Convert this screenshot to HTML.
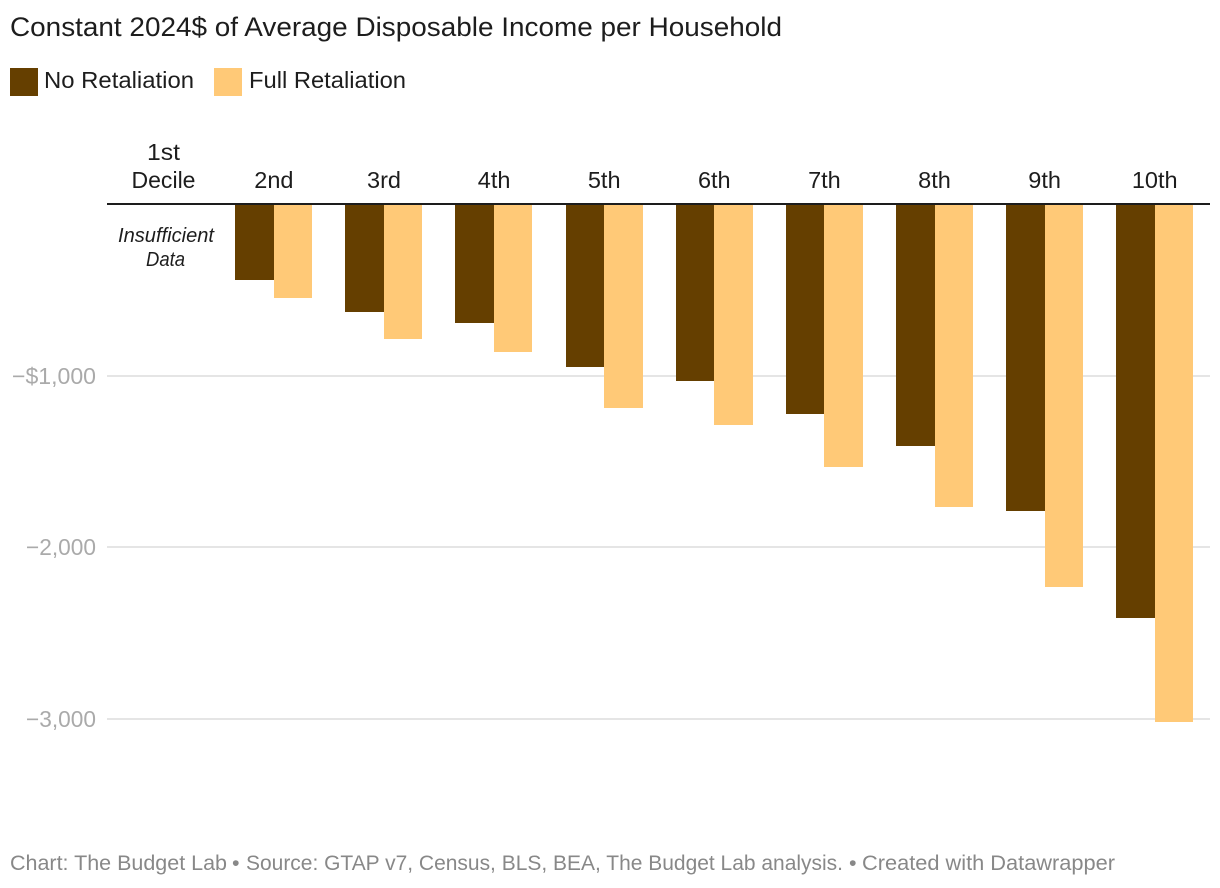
<!DOCTYPE html>
<html lang="en">
<head>
<meta charset="utf-8">
<title>Constant 2024$ of Average Disposable Income per Household</title>
<style>
html,body{margin:0;padding:0;background:#fff;width:1220px;height:888px;overflow:hidden}
svg{display:block}
text{font-family:"Liberation Sans",sans-serif}
</style>
</head>
<body>
<svg id="chart" xmlns="http://www.w3.org/2000/svg" width="1220" height="888" viewBox="0 0 1220 888">
  <rect x="0" y="0" width="1220" height="888" fill="#ffffff"/>
  <text x="10" y="36" font-size="26.5" fill="#1d1d1d" textLength="772" lengthAdjust="spacingAndGlyphs">Constant 2024$ of Average Disposable Income per Household</text>
  <g>
    <rect x="10" y="68" width="28" height="28" fill="#653f00"/>
    <text x="44" y="88" font-size="23.5" fill="#1d1d1d" textLength="150" lengthAdjust="spacingAndGlyphs">No Retaliation</text>
    <rect x="214" y="68" width="28" height="28" fill="#ffc977"/>
    <text x="249" y="88" font-size="23.5" fill="#1d1d1d" textLength="157" lengthAdjust="spacingAndGlyphs">Full Retaliation</text>
  </g>
  <g id="grid"></g>
  <g id="yticks"></g>
  <g id="bars"></g>
  <rect x="107" y="203" width="1103" height="2" fill="#1d1d1d"/>
  <g id="xlabels"></g>
  <text x="163.5" y="160" font-size="23.5" fill="#1d1d1d" text-anchor="middle" textLength="33" lengthAdjust="spacingAndGlyphs">1st</text>
  <text x="163.5" y="188" font-size="23.5" fill="#1d1d1d" text-anchor="middle" textLength="64" lengthAdjust="spacingAndGlyphs">Decile</text>
  <text x="166" y="242" font-size="20" font-style="italic" fill="#1d1d1d" text-anchor="middle" textLength="96" lengthAdjust="spacingAndGlyphs">Insufficient</text>
  <text x="165.5" y="266" font-size="20" font-style="italic" fill="#1d1d1d" text-anchor="middle" textLength="39" lengthAdjust="spacingAndGlyphs">Data</text>
  <g font-size="21.5" fill="#888888">
    <text x="10" y="870" textLength="217" lengthAdjust="spacingAndGlyphs">Chart: The Budget Lab</text>
    <text x="232" y="870">•</text>
    <text x="246" y="870" textLength="597" lengthAdjust="spacingAndGlyphs">Source: GTAP v7, Census, BLS, BEA, The Budget Lab analysis.</text>
    <text x="849" y="870">•</text>
    <text x="862" y="870" textLength="253" lengthAdjust="spacingAndGlyphs">Created with Datawrapper</text>
  </g>
</svg>
<script>
const categories = ["1st", "2nd", "3rd", "4th", "5th", "6th", "7th", "8th", "9th", "10th"];
const noRetaliation = [null, -443, -629, -693, -950, -1031, -1223, -1410, -1788, -2412];
const fullRetaliation = [null, -548, -786, -862, -1188, -1287, -1532, -1765, -2231, -3017];
const yTickValues = [-1000, -2000, -3000];
const yTickLabels = ["−$1,000", "−2,000", "−3,000"];

const SVG_NS = "http://www.w3.org/2000/svg";
function yScale(v) { return 204 + (-v) * 0.17167; }
function xCenter(i) { return 163.8 + i * 110.1; }
const leftBand = 38.7;
const rightBand = 38.3;

const grid = document.getElementById("grid");
const yticks = document.getElementById("yticks");
yTickValues.forEach(function (v, i) {
  const y = Math.round(yScale(v));
  const line = document.createElementNS(SVG_NS, "rect");
  
  
  line.setAttribute("x", 107);
  line.setAttribute("y", y - 1);
  line.setAttribute("width", 1103);
  line.setAttribute("height", 2);
  line.setAttribute("fill", "#e5e5e5");
  grid.appendChild(line);
  const label = document.createElementNS(SVG_NS, "text");
  
  
  label.setAttribute("x", 96);
  label.setAttribute("y", y + 8);
  label.setAttribute("font-size", 23);
  label.setAttribute("fill", "#aaaaaa");
  label.setAttribute("text-anchor", "end");
  label.setAttribute("textLength", yTickLabels[i].length * 14 - 14);
  label.setAttribute("lengthAdjust", "spacingAndGlyphs");
  label.textContent = yTickLabels[i];
  yticks.appendChild(label);
});

const bars = document.getElementById("bars");
function drawBar(i, v, x0, x1, color) {
  if (v === null) return;
  const bottom = Math.round(yScale(v));
  const rect = document.createElementNS(SVG_NS, "rect");
  
  
  rect.setAttribute("x", x0);
  rect.setAttribute("y", 204);
  rect.setAttribute("width", x1 - x0);
  rect.setAttribute("height", bottom - 204);
  rect.setAttribute("fill", color);
  bars.appendChild(rect);
}
categories.forEach(function (c, i) {
  const cx = xCenter(i);
  const left = Math.round(cx - leftBand);
  const mid = Math.round(cx);
  const right = Math.round(cx + rightBand);
  drawBar(i, noRetaliation[i], left, mid, "#653f00");
  drawBar(i, fullRetaliation[i], mid, right, "#ffc977");
});

const xlabels = document.getElementById("xlabels");
categories.forEach(function (c, i) {
  if (i === 0) return;
  const t = document.createElementNS(SVG_NS, "text");
  
  
  t.setAttribute("x", xCenter(i));
  t.setAttribute("y", 188);
  t.setAttribute("font-size", 23.5);
  t.setAttribute("fill", "#1d1d1d");
  t.setAttribute("text-anchor", "middle");
  t.textContent = c;
  xlabels.appendChild(t);
});
</script>
</body>
</html>
